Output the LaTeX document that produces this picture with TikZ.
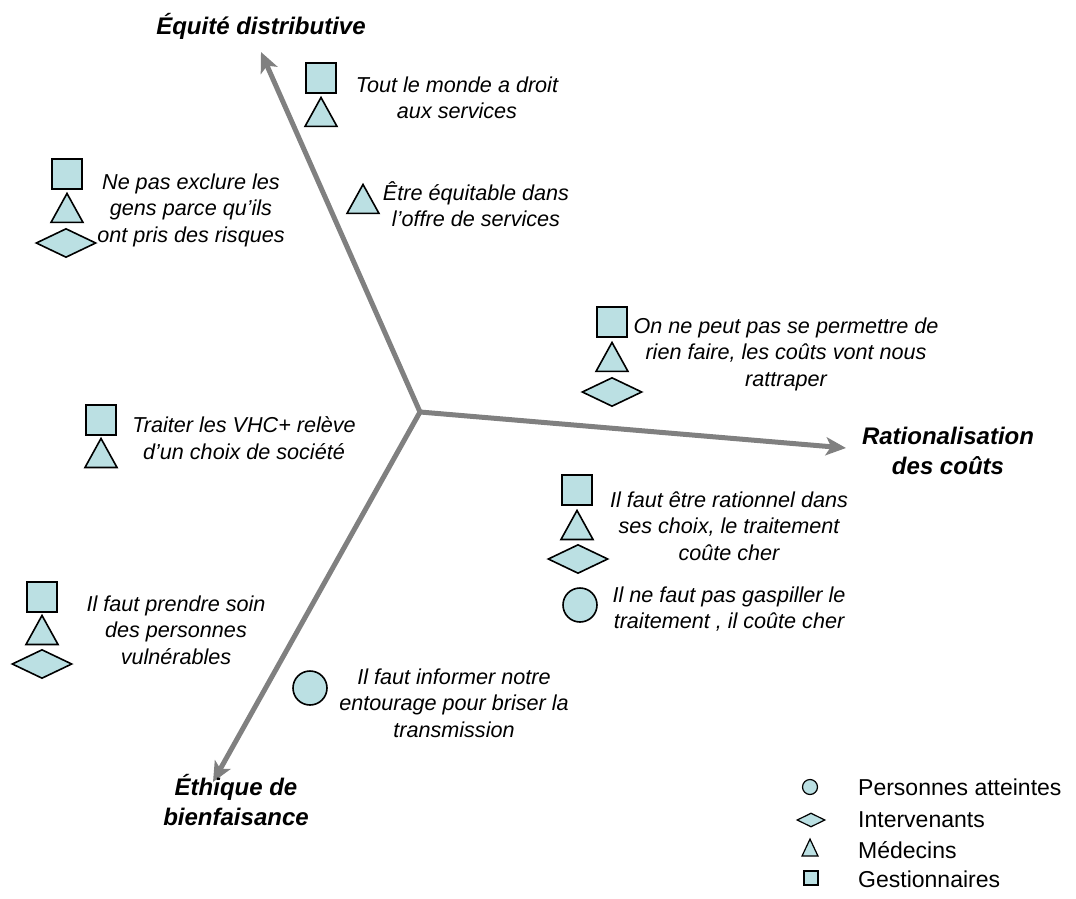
\documentclass[tikz,border=0pt]{standalone}
\usepackage{fontspec}
\setmainfont{Liberation Sans}
\usetikzlibrary{arrows.meta,shapes.geometric}
\definecolor{pale}{RGB}{187,224,227}
\definecolor{axisgray}{RGB}{128,128,128}

\begin{document}
\begin{tikzpicture}[x=1pt,y=-1pt,
  axe/.style = {draw=axisgray, line width=5pt,
    -{Stealth[length=20pt,width=18pt,inset=5pt]}},
  axetitle/.style = {align=center, inner sep=0,
    font=\fontsize{24}{30}\selectfont\bfseries\itshape},
  quote/.style = {align=center, inner sep=0,
    font=\fontsize{21.6}{26.5}\selectfont\itshape},
  legtext/.style = {anchor=west, inner sep=0,
    font=\fontsize{23}{28}\selectfont},
  gestionnaire/.style = {shape=rectangle, draw, fill=pale, line width=1.6pt,
    minimum size=30pt, inner sep=0},
  medecin/.style = {shape=isosceles triangle, shape border rotate=90,
    isosceles triangle stretches, draw, fill=pale, line width=1.6pt,
    minimum width=32pt, minimum height=29pt, inner sep=0, yshift=-5pt},
  intervenant/.style = {shape=diamond, draw, fill=pale, line width=1.6pt,
    minimum width=60pt, minimum height=29pt, inner sep=0},
  atteinte/.style = {shape=circle, draw, fill=pale, line width=1.6pt,
    minimum size=34pt, inner sep=0}]
  \useasboundingbox (0,0) rectangle (1076,899);

  % axes
  \coordinate (centre) at (420,412);
  \coordinate (hautaxe) at (261,52);
  \coordinate (droitaxe) at (846,448);
  \coordinate (basaxe) at (213,782);
  \draw[axe] (centre) -- (hautaxe);
  \draw[axe] (centre) -- (droitaxe);
  \draw[axe] (centre) -- (basaxe);

  \node[axetitle] (equite) at (261,26) {Équité distributive};
  \node[axetitle] (rational) at (948,451) {Rationalisation\\des coûts};
  \node[axetitle] (ethique) at (236,800) {Éthique de\\bienfaisance};

  % equite
  \node[gestionnaire] (g1) at (321,78) {};
  \node[medecin] (m1) at (321,112) {};
  \node[quote] (q1) at (457,98) {Tout le monde a droit\\aux services};

  \node[medecin] (m2) at (363,199) {};
  \node[quote] (q2) at (476,204) {Être équitable dans\\l’offre de services};

  \node[gestionnaire] (g3) at (67,174) {};
  \node[medecin] (m3) at (67,208) {};
  \node[intervenant] (i3) at (66,243) {};
  \node[quote] (q3) at (191,210) {Ne pas exclure les\\gens parce qu’ils\\ont pris des risques};

  \node[gestionnaire] (g5) at (101,420) {};
  \node[medecin] (m5) at (101,453) {};
  \node[quote] (q5) at (244,438) {Traiter les VHC+ relève\\d’un choix de société};

  % couts
  \node[gestionnaire] (g4) at (612,322) {};
  \node[medecin] (m4) at (612,357) {};
  \node[intervenant] (i4) at (612,392) {};
  \node[quote] (q4) at (786,354) {On ne peut pas se permettre de\\rien faire, les coûts vont nous\\rattraper};

  \node[gestionnaire] (g6) at (577,490) {};
  \node[medecin] (m6) at (577,525) {};
  \node[intervenant] (i6) at (578,559) {};
  \node[quote] (q6) at (729,526) {Il faut être rationnel dans\\ses choix, le traitement\\coûte cher};

  \node[atteinte] (a7) at (580,605) {};
  \node[quote] (q7) at (729,609) {Il ne faut pas gaspiller le\\traitement , il coûte cher};

  % bienfaisance
  \node[gestionnaire] (g8) at (42,597) {};
  \node[medecin] (m8) at (42,630) {};
  \node[intervenant] (i8) at (42,664) {};
  \node[quote] (q8) at (176,630) {Il faut prendre soin\\des personnes\\vulnérables};

  \node[atteinte] (a9) at (310,688) {};
  \node[quote] (q9) at (454,703) {Il faut informer notre\\entourage pour briser la\\transmission};

  % legende
  \node[atteinte, minimum size=15pt, line width=1.2pt] (la) at (810,787) {};
  \node[intervenant, minimum width=28pt, minimum height=14pt, line width=1.2pt] (li) at (811,820) {};
  \node[medecin, minimum width=16pt, minimum height=17pt, line width=1.2pt, yshift=3pt] (lm) at (810,849) {};
  \node[gestionnaire, minimum size=14pt, line width=1.2pt] (lg) at (811,878) {};
  \node[legtext] (ta) at (858,787) {Personnes atteintes};
  \node[legtext] (ti) at (858,820) {Intervenants};
  \node[legtext] (tm) at (858,850) {Médecins};
  \node[legtext] (tg) at (858,879) {Gestionnaires};
\end{tikzpicture}
\end{document}
